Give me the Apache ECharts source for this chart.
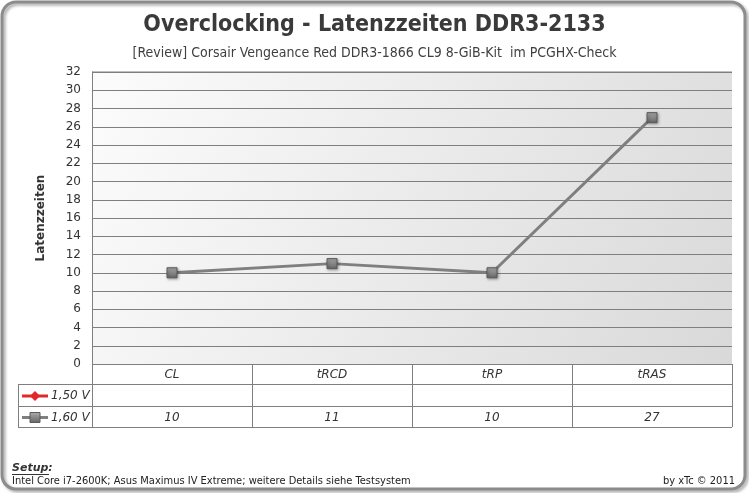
<!DOCTYPE html>
<html>
<head>
<meta charset="utf-8">
<script src="https://cdn.jsdelivr.net/npm/echarts@6/dist/echarts.min.js"></script>
<style>
  html, body { margin: 0; padding: 0; background: #fff; }
  #chart { width: 749px; height: 493px; }
</style>
</head>
<body>
<div id="chart"></div>
<script>
// Daten
const categories = ['CL', 'tRCD', 'tRP', 'tRAS'];
const seriesNames = ['1,50 V', '1,60 V'];
const values150 = [null, null, null, null];
const values160 = [10, 11, 10, 27];
const yMin = 0;
const yMax = 32;
const yStep = 2;

const lineGray = '#7f7f7f';
const chart = echarts.init(document.getElementById('chart'));

const squareFill = {
  type: 'linear', x: 0, y: 0, x2: 0, y2: 1,
  colorStops: [{ offset: 0, color: '#b0b0b0' }, { offset: 0.45, color: '#8a8a8a' }, { offset: 1, color: '#666' }]
};

chart.setOption({
  animation: false,
  title: [
    {
      text: 'Overclocking - Latenzzeiten DDR3-2133',
      left: 'center', top: 9,
      textStyle: { fontFamily: 'DejaVu Sans Condensed', fontWeight: 'bold', fontSize: 23, color: '#3a3a3a' }
    },
    {
      text: '[Review] Corsair Vengeance Red DDR3-1866 CL9 8-GiB-Kit  im PCGHX-Check',
      left: 'center', top: 41,
      textStyle: { fontFamily: 'DejaVu Sans Condensed', fontWeight: 'normal', fontSize: 14, color: '#404040' }
    }
  ],
  grid: { left: 92, right: 17, top: 72, bottom: 129 },
  xAxis: {
    type: 'category',
    data: categories,
    boundaryGap: true,
    axisLine: { show: false },
    axisTick: { show: false },
    axisLabel: { show: false },
    splitLine: { show: false }
  },
  yAxis: {
    type: 'value',
    min: yMin, max: yMax, interval: yStep,
    name: 'Latenzzeiten',
    nameLocation: 'middle',
    nameGap: 45,
    nameTextStyle: { fontFamily: 'DejaVu Sans', fontWeight: 'bold', fontSize: 12, color: '#333' },
    axisLine: { show: true, lineStyle: { color: lineGray } },
    axisTick: { show: false },
    axisLabel: { fontFamily: 'DejaVu Sans', fontSize: 12, color: '#333', margin: 11 },
    splitLine: { lineStyle: { color: lineGray, width: 1 } }
  },
  series: [
    {
      name: seriesNames[0],
      type: 'line',
      data: values150,
      symbol: 'diamond',
      symbolSize: 10,
      lineStyle: { color: '#e0282c', width: 3 },
      itemStyle: { color: '#e0282c' }
    },
    {
      name: seriesNames[1],
      type: 'line',
      data: values160,
      symbol: 'rect',
      symbolSize: 10,
      lineStyle: { color: lineGray, width: 3 },
      itemStyle: { color: squareFill, borderColor: '#5a5a5a', borderWidth: 1, shadowColor: 'rgba(0,0,0,0.35)', shadowBlur: 3, shadowOffsetX: 1, shadowOffsetY: 1 },
      z: 3
    }
  ]
});

// Hintergrund, Rahmen, Datentabelle
const x0 = chart.convertToPixel({ xAxisIndex: 0 }, 0);
const x1 = chart.convertToPixel({ xAxisIndex: 0 }, 1);
const colW = x1 - x0;
const plotLeft = x0 - colW / 2;
const plotRight = plotLeft + colW * categories.length;
const plotTop = chart.convertToPixel({ yAxisIndex: 0 }, yMax);
const plotBottom = chart.convertToPixel({ yAxisIndex: 0 }, yMin);
const rowH = 21;
const legendLeft = 18;
const rows = [plotBottom, plotBottom + rowH - 1, plotBottom + 2 * rowH, plotBottom + 3 * rowH];

const g = [];
g.push({
  type: 'rect', z: -10, silent: true,
  shape: { x: plotLeft, y: plotTop, width: plotRight - plotLeft, height: plotBottom - plotTop },
  style: { fill: { type: 'linear', x: 0, y: 0, x2: 1, y2: 1, colorStops: [{ offset: 0, color: '#fcfcfc' }, { offset: 1, color: '#dad9d9' }] } }
});
g.push({
  type: 'rect', z: 10, silent: true,
  shape: { x: 2, y: 2, width: 743, height: 487, r: 14 },
  style: { fill: 'none', stroke: '#8c8c8c', lineWidth: 3, shadowColor: 'rgba(0,0,0,0.35)', shadowBlur: 3, shadowOffsetX: 2, shadowOffsetY: 2 }
});
// Plot-Rahmen oben
g.push({ type: 'line', z: 5, shape: { x1: plotLeft, y1: plotTop, x2: plotRight, y2: plotTop }, style: { stroke: lineGray, lineWidth: 1 } });

// Tabellen-Linien
const hLine = (y, xa, xb) => g.push({ type: 'line', z: 5, shape: { x1: xa, y1: y + 0.5, x2: xb, y2: y + 0.5 }, style: { stroke: lineGray, lineWidth: 1 } });
const vLine = (x, ya, yb) => g.push({ type: 'line', z: 5, shape: { x1: x + 0.5, y1: ya, x2: x + 0.5, y2: yb }, style: { stroke: lineGray, lineWidth: 1 } });
hLine(rows[0], plotLeft, plotRight);
hLine(rows[1], legendLeft, plotRight);
hLine(rows[2], legendLeft, plotRight);
hLine(rows[3], legendLeft, plotRight);
vLine(legendLeft, rows[1], rows[3]);
for (let i = 0; i <= categories.length; i++) {
  vLine(plotLeft + i * colW, rows[0], rows[3]);
}

const cellFont = { fontFamily: 'DejaVu Sans', fontStyle: 'italic', fontSize: 12, fill: '#333' };
categories.forEach((c, i) => {
  const cx = chart.convertToPixel({ xAxisIndex: 0 }, i);
  g.push({ type: 'text', z: 6, style: Object.assign({ text: c, x: cx, y: (rows[0] + rows[1]) / 2 + 1, align: 'center', verticalAlign: 'middle' }, cellFont) });
  [values150, values160].forEach((vals, s) => {
    if (vals[i] == null) return;
    g.push({ type: 'text', z: 6, style: Object.assign({ text: String(vals[i]), x: cx, y: (rows[s + 1] + rows[s + 2]) / 2 + 1, align: 'center', verticalAlign: 'middle' }, cellFont) });
  });
});

// Legende in der Tabelle
const legendStyles = [
  { color: '#e0282c', symbol: 'diamond' },
  { color: lineGray, symbol: 'rect' }
];
seriesNames.forEach((n, s) => {
  const cy = (rows[s + 1] + rows[s + 2]) / 2 + 1;
  const ls = legendStyles[s];
  g.push({ type: 'line', z: 6, shape: { x1: 22, y1: cy, x2: 48, y2: cy }, style: { stroke: ls.color, lineWidth: 3 } });
  if (ls.symbol === 'diamond') {
    g.push({ type: 'polygon', z: 7, shape: { points: [[35, cy - 5], [40, cy], [35, cy + 5], [30, cy]] }, style: { fill: ls.color } });
  } else {
    g.push({ type: 'rect', z: 7, shape: { x: 30, y: cy - 5, width: 10, height: 10 }, style: { fill: squareFill, stroke: '#5a5a5a', lineWidth: 1 } });
  }
  g.push({ type: 'text', z: 7, style: Object.assign({ text: n, x: 51, y: cy, align: 'left', verticalAlign: 'middle' }, cellFont) });
});

// Fusszeile
g.push({ type: 'text', z: 6, style: { text: 'Setup:', x: 12, y: 468, verticalAlign: 'middle', fontFamily: 'DejaVu Sans', fontWeight: 'bold', fontStyle: 'italic', fontSize: 11, fill: '#333' } });
g.push({ type: 'line', z: 6, shape: { x1: 12, y1: 474.5, x2: 49, y2: 474.5 }, style: { stroke: '#333', lineWidth: 1 } });
g.push({ type: 'text', z: 6, style: { text: 'Intel Core i7-2600K; Asus Maximus IV Extreme; weitere Details siehe Testsystem', x: 12, y: 481, verticalAlign: 'middle', fontFamily: 'DejaVu Sans Condensed', fontSize: 11, fill: '#222' } });
g.push({ type: 'text', z: 6, style: { text: 'by xTc © 2011', x: 735, y: 481, align: 'right', verticalAlign: 'middle', fontFamily: 'DejaVu Sans Condensed', fontSize: 11, fill: '#222' } });

chart.setOption({ graphic: g });
</script>
</body>
</html>
